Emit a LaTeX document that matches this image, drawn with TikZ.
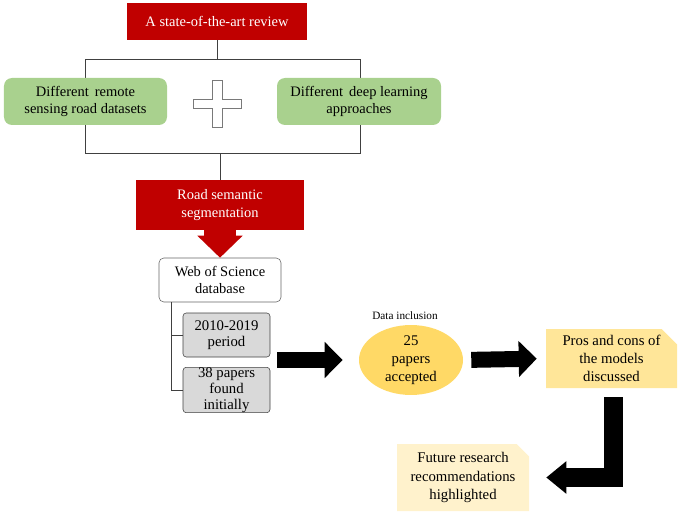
\documentclass[tikz,border=0pt]{standalone}
\usepackage{fontspec}
\setmainfont{Liberation Serif}
\usepackage{tikz}
\usetikzlibrary{positioning,arrows.meta,shapes.geometric,shapes.misc}
\usepackage{xcolor}
\definecolor{darkred}{HTML}{C00000}
\definecolor{leaf}{HTML}{A9D18E}
\definecolor{boxgray}{HTML}{D9D9D9}
\definecolor{gold}{HTML}{FFD966}
\definecolor{sand}{HTML}{FFE699}
\definecolor{cream}{HTML}{FFF2CC}
\definecolor{wire}{HTML}{404040}

\begin{document}
\begin{tikzpicture}[font=\fontsize{10.3}{12.5}\selectfont,
  redbox/.style={fill=darkred,text=white,align=center,inner sep=0pt},
  greenbox/.style={fill=leaf,rounded corners=0.2cm,align=center,minimum width=4.1cm,minimum height=1.175cm},
  graybox/.style={fill=boxgray,draw=wire,rounded corners=0.08cm,align=center,minimum width=2.175cm,minimum height=1.1cm,inner sep=0pt,font=\fontsize{10.5}{11.5}\selectfont},
  notebox/.style={chamfered rectangle,chamfered rectangle corners=north east,chamfered rectangle xsep=0.28cm,align=center,inner sep=0pt,font=\fontsize{10.5}{13}\selectfont},
  wireline/.style={draw=wire,line width=0.6pt},
  fatarrow/.style={line width=0.4cm,-{Triangle[length=0.45cm,width=0.875cm]}}]
\useasboundingbox (0,0) rectangle (17,-12.85);
\node[redbox,minimum width=4.5cm,minimum height=0.925cm] (review) at (5.425,-0.5375) {A state-of-the-art review};
\coordinate (tl) at (2.125,-1.475);
\coordinate (br) at (9.0,-3.825);
\draw[wireline] (tl) rectangle (br);
\draw[wireline] (review.south) -- (review.south |- tl);
\node[greenbox,minimum width=4.075cm] (datasets) at (2.1375,-2.5375) {Different\, remote\\sensing road datasets};
\node[greenbox] (approaches) at (8.975,-2.5375) {Different\, deep learning\\approaches};
\draw[draw=wire!70,fill=white,line width=0.6pt] (5.3,-2.0) -- (5.55,-2.0) -- (5.55,-2.475) -- (6.025,-2.475) -- (6.025,-2.7) -- (5.55,-2.7) -- (5.55,-3.175) -- (5.3,-3.175) -- (5.3,-2.7) -- (4.825,-2.7) -- (4.825,-2.475) -- (5.3,-2.475) -- cycle;
\node[redbox,minimum width=4.2cm,minimum height=1.25cm] (seg) at (5.5,-5.125) {Road semantic\\segmentation};
\draw[wireline] (seg.north) -- (seg.north |- br);
\node[draw=wire!80,rounded corners=0.12cm,align=center,minimum width=3.05cm,minimum height=1.1cm,inner sep=0pt] (wos) at (5.5,-7.0) {Web of Science\\database};
\draw[darkred,line width=0.8cm,-{Triangle[length=0.55cm,width=1.1cm]}] (seg.south) -- (wos.north);
\node[graybox] (period) at (5.6625,-8.375) {2010-2019\\period};
\node[graybox] (found) at (5.6625,-9.75) {38 papers\\found\\initially};
\coordinate (trunk) at (4.275,-7.55);
\draw[wireline] (trunk) |- (period.west);
\draw[wireline] (trunk) |- (found.west);
\node[font=\fontsize{8}{9}\selectfont] (incl) at (10.125,-7.9) {Data inclusion};
\node[ellipse,fill=gold,align=center,minimum width=2.6cm,minimum height=1.45cm,inner sep=0pt,font=\fontsize{10.5}{13}\selectfont] (accepted) at (10.275,-9.0) {25\\papers\\accepted};
\node[notebox,fill=sand,minimum width=3.275cm,minimum height=1.475cm] (pros) at (15.2875,-8.9625) {Pros and cons of\\the models\\discussed};
\node[notebox,fill=cream,chamfered rectangle xsep=0.2cm,minimum width=3.3cm,minimum height=1.675cm] (future) at (11.575,-11.9375) {Future research\\recommendations\\highlighted};
\draw[fatarrow,shorten <=0.175cm,shorten >=0.4cm] (period.east |- accepted.west) -- (accepted.west);
\draw[fatarrow,shorten <=0.2cm,shorten >=0.225cm] (accepted.east) -- (pros.west);
\draw[line width=0.475cm,shorten <=0.225cm,shorten >=0.425cm,-{Triangle[length=0.5cm,width=0.78cm]}] ([xshift=0.05cm]pros.south) |- (future.east);
\end{tikzpicture}
\end{document}
